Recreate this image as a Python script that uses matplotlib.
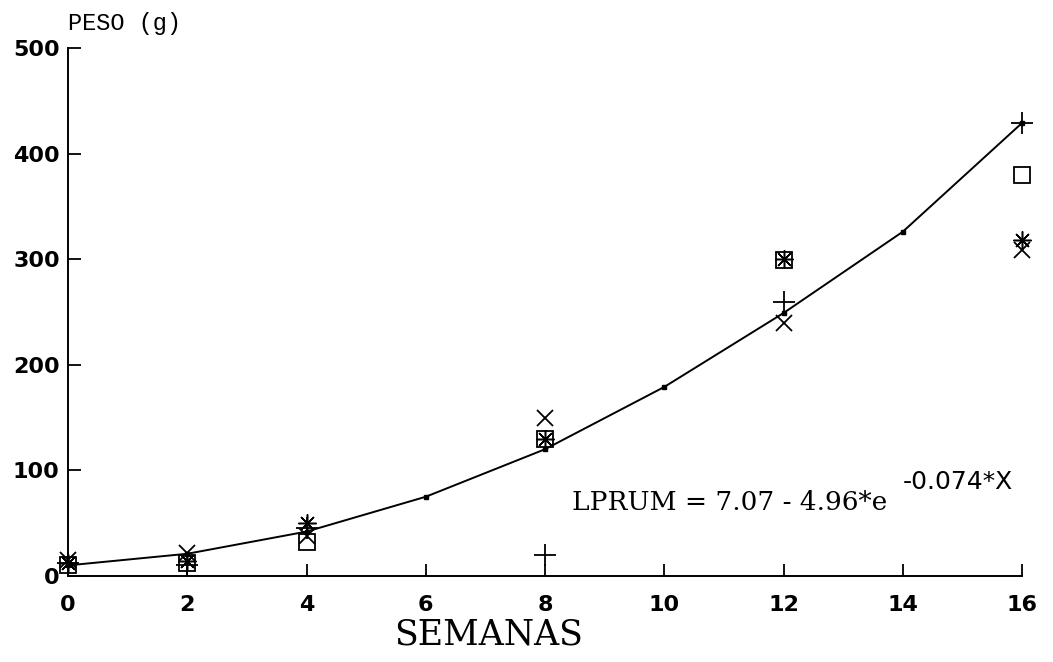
import numpy as np
import matplotlib.pyplot as plt

# fitted curve (semanas vs peso)
semanas = [0, 2, 4, 6, 8, 10, 12, 14, 16]
ajuste = [10, 21, 42, 75, 120, 179, 249, 326, 429]

# observed points, one list per marker
x_obs = [0, 2, 4, 8, 12, 16]
peso_cruz = [12, 10, 45, 20, 259, 429]
peso_x = [15, 22, 38, 150, 240, 309]
peso_cuadro = [10, 12, 32, 130, 299, 380]
peso_aster = [12, 14, 50, 130, 300, 318]

xticks = [0, 2, 4, 6, 8, 10, 12, 14, 16]
yticks = [0, 100, 200, 300, 400, 500]

fig = plt.figure(figsize=(10.53, 6.62), dpi=100)
ax = fig.add_axes([0.0646, 0.13, 0.906, 0.7975])

ax.plot(semanas, ajuste, color='black', lw=1.4, marker='s', ms=3.5, zorder=3, clip_on=False)
ax.plot(x_obs, peso_cruz, ls='none', marker='+', ms=16, mew=1.3, color='black', clip_on=False)
ax.plot(x_obs, peso_x, ls='none', marker='x', ms=12, mew=1.3, color='black', clip_on=False)
ax.plot(x_obs, peso_cuadro, ls='none', marker='s', ms=11, mew=1.3,
        mfc='none', color='black', clip_on=False)
ax.plot(x_obs, peso_aster, ls='none', marker=(8, 2, 0), ms=13, mew=1.1,
        color='black', clip_on=False)

ax.set_xlim(0, 16)
ax.set_ylim(0, 500)
ax.set_xticks(xticks)
ax.set_yticks(yticks)
ax.spines['top'].set_visible(False)
ax.spines['right'].set_visible(False)
ax.spines['left'].set_linewidth(1.4)
ax.spines['bottom'].set_linewidth(1.4)
ax.tick_params(direction='in', length=9, width=1.3, labelsize=16)
for lab in ax.get_xticklabels() + ax.get_yticklabels():
    lab.set_fontweight('bold')
ax.tick_params(axis='y', pad=6)
ax.tick_params(axis='x', pad=14)

fig.text(0.065, 0.965, 'PESO (g)', fontsize=17, family='Liberation Mono', va='center', ha='left')
fig.text(0.464, 0.026, 'SEMANAS', fontsize=25, family='DejaVu Serif', va='baseline', ha='center')
ax.text(8.45, 62, 'LPRUM = 7.07 - 4.96*e', fontsize=19, family='DejaVu Serif', va='baseline')
ax.text(14.0, 82, '-0.074*X', fontsize=18, family='DejaVu Sans', va='baseline')

fig.savefig('out.png', dpi=100)
